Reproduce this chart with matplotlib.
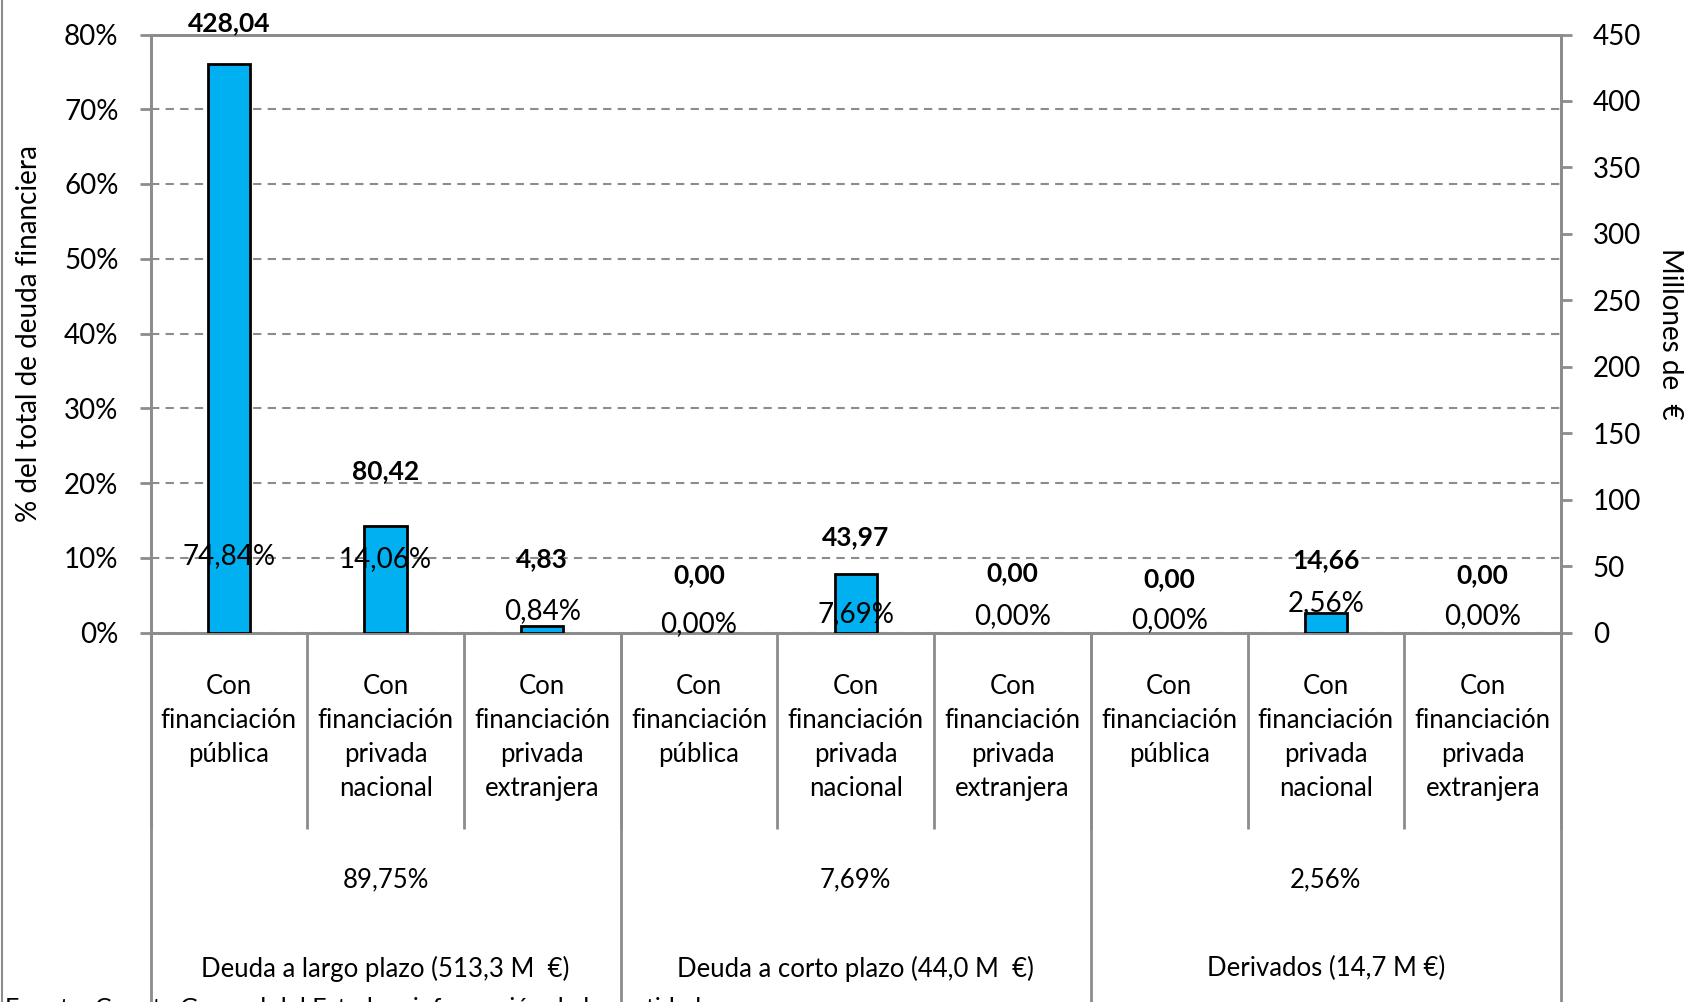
import matplotlib
matplotlib.use("Agg")
import matplotlib.pyplot as plt
import numpy as np
from matplotlib.lines import Line2D

# ---------------- data ----------------
categories = [
    "Con\nfinanciación\npública",
    "Con\nfinanciación\nprivada\nnacional",
    "Con\nfinanciación\nprivada\nextranjera",
    "Con\nfinanciación\npública",
    "Con\nfinanciación\nprivada\nnacional",
    "Con\nfinanciación\nprivada\nextranjera",
    "Con\nfinanciación\npública",
    "Con\nfinanciación\nprivada\nnacional",
    "Con\nfinanciación\nprivada\nextranjera",
]
millions = [428.04, 80.42, 4.83, 0.00, 43.97, 0.00, 0.00, 14.66, 0.00]
percent = [74.84, 14.06, 0.84, 0.00, 7.69, 0.00, 0.00, 2.56, 0.00]
group_names = ["Deuda a largo plazo (513,3 M  €)",
               "Deuda a corto plazo (44,0 M  €)",
               "Derivados (14,7 M €)"]
group_shares = ["89,75%", "7,69%", "2,56%"]
group_size = 3
left_ticks = [0, 10, 20, 30, 40, 50, 60, 70, 80]
right_ticks = [0, 50, 100, 150, 200, 250, 300, 350, 400, 450]

# ---------------- style ----------------
FONT = "Lato"
plt.rcParams["font.family"] = [FONT, "DejaVu Sans"]
GRAY = "#8c8c8c"
BAR = "#00B0F0"
# label offsets (pixels above anchor), purely for text placement
value_label_offsets_px = [41, 54, 67, 57, 37, 59, 53, 53, 57]
pct_label_offsets_px = [76, 73, 21, 8, 18, 16, 12, 29, 16]

W, H = 1692, 1002
fig = plt.figure(figsize=(W / 100, H / 100), dpi=100)
L, R, T, B = 150.5, 1561, 34.5, 632.5
ax = fig.add_axes([L / W, 1 - B / H, (R - L) / W, (B - T) / H])
ax2 = ax.twinx()

x = np.arange(len(categories))
n = len(categories)

# left axis (percent)
ax.set_ylim(0, 80)
ax.set_xlim(-0.5, n - 0.5)
ax.set_yticks(left_ticks)
ax.set_yticklabels([f"{v}%" for v in left_ticks])
ax.yaxis.grid(True, linestyle=(0, (4, 3)), color=GRAY, linewidth=1.5)
ax.set_axisbelow(True)
ax.set_ylabel("% del total de deuda financiera", fontsize=20, labelpad=16)

# right axis (millions)
ax2.set_ylim(0, 450)
ax2.set_yticks(right_ticks)
ax2.set_yticklabels([str(v) for v in right_ticks])
ax2.set_ylabel("Millones de  €", fontsize=20, rotation=270, labelpad=30)

edgecolors = ["black" if v > 0 else "none" for v in millions]
ax2.bar(x, millions, width=0.27, color=BAR, edgecolor=edgecolors,
        linewidth=2.0, zorder=3)

for a in (ax, ax2):
    for s in a.spines.values():
        s.set_color(GRAY)
        s.set_linewidth(2.0)
    a.tick_params(axis="y", which="major", length=8, width=2.0, color=GRAY,
                  labelsize=20, pad=15, direction="out")

# x axis: category labels and separators
ax.set_xticks(x)
ax.set_xticklabels(categories, fontsize=18.5, linespacing=1.45, va="top")
ax.tick_params(axis="x", which="major", length=0, pad=30)
ax.set_xticks(np.arange(-0.5, n, 1), minor=True)
ax.tick_params(axis="x", which="minor", length=141, width=2.0, color=GRAY,
               direction="out")

trans = ax.get_xaxis_transform()
# group separators extend to bottom of figure
for b in np.arange(-0.5, n + 0.5, group_size):
    ax.add_line(Line2D([b, b], [0, -0.62], transform=trans, color=GRAY,
                       linewidth=2.0, clip_on=False))
for g, (name, share) in enumerate(zip(group_names, group_shares)):
    cx = g * group_size + (group_size - 1) / 2
    ax.text(cx, -0.413, share, transform=trans, ha="center", va="center",
            fontsize=18.5)
    ax.text(cx, -0.562, name, transform=trans, ha="center", va="center",
            fontsize=18.5)

# value labels (millions, bold) above bars
for xi, v, off in zip(x, millions, value_label_offsets_px):
    ax2.annotate(f"{v:.2f}".replace(".", ","), (xi, v), xytext=(0, off),
                 textcoords="offset pixels", ha="center", va="center",
                 fontsize=19, fontweight="bold", zorder=5,
                 annotation_clip=False)
# percentage labels (drawn on top of the bars)
for xi, p, off in zip(x, percent, pct_label_offsets_px):
    ax2.annotate(f"{p:.2f}%".replace(".", ","), (xi, 0),
                 xycoords=ax.transData, xytext=(0, off),
                 textcoords="offset pixels", ha="center", va="center",
                 fontsize=20, zorder=6, annotation_clip=False)

# image border at left edge and cut-off source note
fig.add_artist(Line2D([0.001, 0.001], [0, 1], transform=fig.transFigure,
                      color=GRAY, linewidth=1.5))
fig.text(0.003, 0.005, "Fuente: Cuenta General del Estado e información de las entidades",
         fontsize=18, va="top", ha="left")

fig.savefig("out.png", dpi=100)
